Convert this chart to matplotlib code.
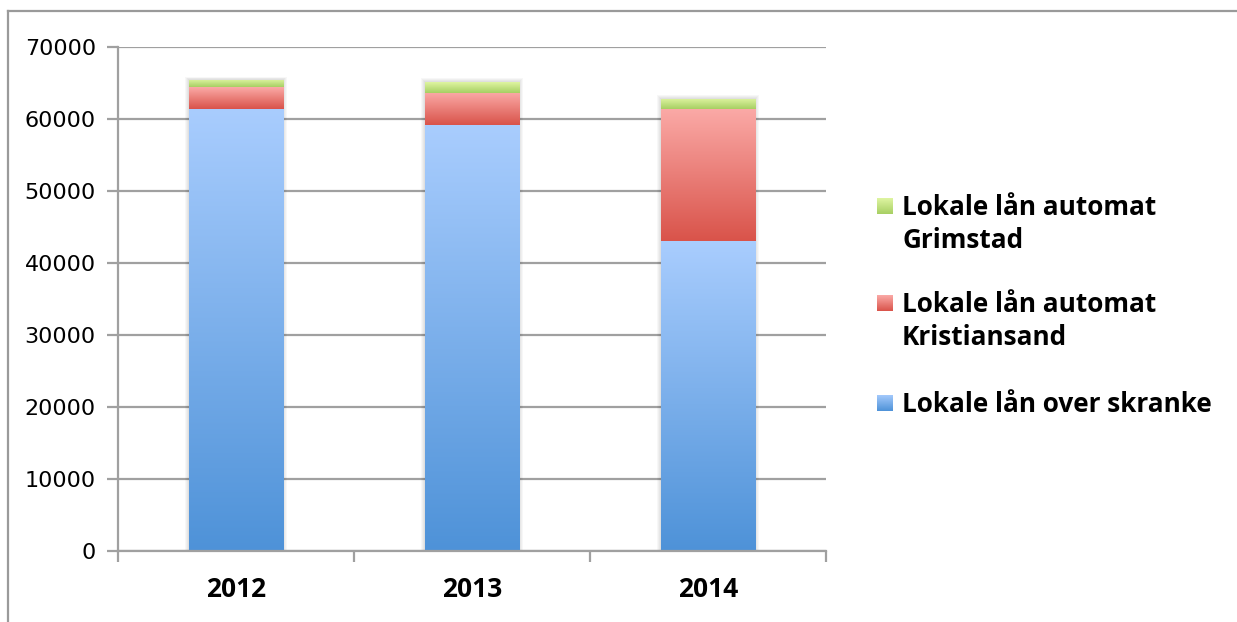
import numpy as np
import matplotlib.pyplot as plt
from matplotlib.colors import LinearSegmentedColormap
from matplotlib.lines import Line2D

years = ['2012', '2013', '2014']
skranke = [61400, 59100, 43000]
kristiansand = [3000, 4550, 18400]
grimstad = [1000, 1500, 1400]

series_names = ['Lokale lån over skranke',
                'Lokale lån automat\nKristiansand',
                'Lokale lån automat\nGrimstad']
# (top colour, bottom colour) for each series gradient
grad_colors = [('#a9cdfe', '#4e92d8'),
               ('#fbaaa7', '#d9534a'),
               ('#dff5a2', '#a7cf63')]

W, H = 1237, 622
fig = plt.figure(figsize=(W / 100, H / 100), dpi=100)
ax = fig.add_axes([118 / W, 1 - 551 / H, (826 - 118) / W, (551 - 47) / H])

x = np.arange(len(years))
bar_w = 0.40
grad = np.linspace(1, 0, 256).reshape(-1, 1)

# soft shadow behind each stack
totals = np.array(skranke) + np.array(kristiansand) + np.array(grimstad)
for k in range(4, 0, -1):
    ax.bar(x, totals + k * 120, width=bar_w + k * 0.008, color='#000000',
           alpha=0.03, zorder=1.5, linewidth=0)

bottom = np.zeros(len(years))
for vals, (ctop, cbot) in zip([skranke, kristiansand, grimstad], grad_colors):
    cmap = LinearSegmentedColormap.from_list('g', [cbot, ctop])
    bars = ax.bar(x, vals, width=bar_w, bottom=bottom, color='none',
                  linewidth=0, zorder=2)
    for b in bars:
        x0, y0 = b.get_x(), b.get_y()
        x1, y1 = x0 + b.get_width(), y0 + b.get_height()
        im = ax.imshow(grad, cmap=cmap, aspect='auto',
                       extent=[x0, x1, y0, y1], zorder=2.5,
                       interpolation='bilinear')
        im.set_clip_path(b)
    bottom += np.array(vals)

ax.set_xlim(-0.5, len(years) - 0.5)
ax.set_ylim(0, 70000)
ax.set_yticks(np.arange(0, 70001, 10000))
ax.set_yticklabels([str(v) for v in range(0, 70001, 10000)])
ax.yaxis.grid(True, color='#a0a0a0', linewidth=1.6, zorder=0)
ax.set_axisbelow(True)

ax.set_xticks(x)
ax.set_xticklabels(years, fontsize=19, fontweight='bold', family='Open Sans')
ax.set_xticks(np.arange(-0.5, len(years), 1.0), minor=True)
ax.tick_params(axis='x', which='major', length=0, pad=18)
ax.tick_params(axis='x', which='minor', length=8, width=1.6, color='#a0a0a0',
               direction='out')
ax.tick_params(axis='y', length=8, width=1.6, color='#a0a0a0', labelsize=16,
               pad=8)

for s in ['top', 'right']:
    ax.spines[s].set_visible(False)
for s in ['left', 'bottom']:
    ax.spines[s].set_color('#a0a0a0')
    ax.spines[s].set_linewidth(1.6)
ax.set_xlim(-0.5, len(years) - 0.5)

# legend, drawn from the series list (top entry = last series)
leg_y = [207, 304, 404]
for i, (name, (ctop, cbot)) in enumerate(zip(series_names[::-1], grad_colors[::-1])):
    yy = leg_y[i]
    sw = fig.add_axes([877 / W, 1 - (yy + 7) / H, 16 / W, 16 / H])
    sw.imshow(grad, cmap=LinearSegmentedColormap.from_list('s', [cbot, ctop]),
              aspect='auto', interpolation='bilinear')
    sw.axis('off')
    fig.text(902 / W, 1 - (yy - 13) / H, name, fontsize=18.8, fontweight='bold',
             family='Open Sans', va='top', ha='left', linespacing=1.3)

# outer frame (top and left edges only visible)
fig.add_artist(Line2D([8 / W, 1], [1 - 11 / H, 1 - 11 / H],
                      transform=fig.transFigure, color='#9a9a9a', lw=1.6))
fig.add_artist(Line2D([8 / W, 8 / W], [0, 1 - 11 / H],
                      transform=fig.transFigure, color='#9a9a9a', lw=1.6))

fig.savefig('out.png', dpi=100)
